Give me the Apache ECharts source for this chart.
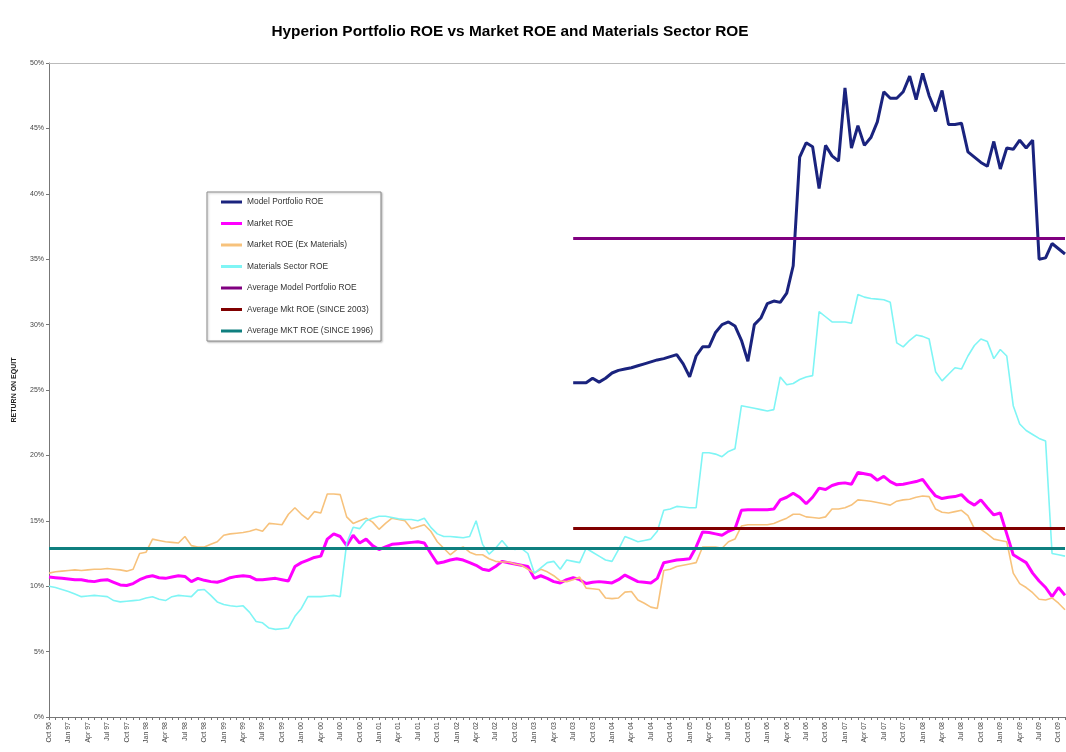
<!DOCTYPE html>
<html>
<head>
<meta charset="utf-8">
<script src="https://cdn.jsdelivr.net/npm/echarts@6/dist/echarts.min.js"></script>
<style>
  html, body { margin: 0; padding: 0; background: #fff; }
  #chart { width: 1066px; height: 752px; }
</style>
</head>
<body>
<div id="chart"></div>
<script>
// monthly categories, Oct 96 .. Nov 09
var months = [
  'Oct 96','Nov 96','Dec 96',
  'Jan 97','Feb 97','Mar 97','Apr 97','May 97','Jun 97','Jul 97','Aug 97','Sep 97','Oct 97','Nov 97','Dec 97',
  'Jan 98','Feb 98','Mar 98','Apr 98','May 98','Jun 98','Jul 98','Aug 98','Sep 98','Oct 98','Nov 98','Dec 98',
  'Jan 99','Feb 99','Mar 99','Apr 99','May 99','Jun 99','Jul 99','Aug 99','Sep 99','Oct 99','Nov 99','Dec 99',
  'Jan 00','Feb 00','Mar 00','Apr 00','May 00','Jun 00','Jul 00','Aug 00','Sep 00','Oct 00','Nov 00','Dec 00',
  'Jan 01','Feb 01','Mar 01','Apr 01','May 01','Jun 01','Jul 01','Aug 01','Sep 01','Oct 01','Nov 01','Dec 01',
  'Jan 02','Feb 02','Mar 02','Apr 02','May 02','Jun 02','Jul 02','Aug 02','Sep 02','Oct 02','Nov 02','Dec 02',
  'Jan 03','Feb 03','Mar 03','Apr 03','May 03','Jun 03','Jul 03','Aug 03','Sep 03','Oct 03','Nov 03','Dec 03',
  'Jan 04','Feb 04','Mar 04','Apr 04','May 04','Jun 04','Jul 04','Aug 04','Sep 04','Oct 04','Nov 04','Dec 04',
  'Jan 05','Feb 05','Mar 05','Apr 05','May 05','Jun 05','Jul 05','Aug 05','Sep 05','Oct 05','Nov 05','Dec 05',
  'Jan 06','Feb 06','Mar 06','Apr 06','May 06','Jun 06','Jul 06','Aug 06','Sep 06','Oct 06','Nov 06','Dec 06',
  'Jan 07','Feb 07','Mar 07','Apr 07','May 07','Jun 07','Jul 07','Aug 07','Sep 07','Oct 07','Nov 07','Dec 07',
  'Jan 08','Feb 08','Mar 08','Apr 08','May 08','Jun 08','Jul 08','Aug 08','Sep 08','Oct 08','Nov 08','Dec 08',
  'Jan 09','Feb 09','Mar 09','Apr 09','May 09','Jun 09','Jul 09','Aug 09','Sep 09','Oct 09','Nov 09'
];

// Model portfolio only starts Jul 03
var modelStart = 'Jul 03';
var modelRoe = [
  25.55,25.55,25.55,25.9,25.6,25.9,26.3,26.5,26.6,26.7,26.85,27.0,
  27.15,27.3,27.4,27.55,27.7,27.0,26.0,27.6,28.3,28.3,29.4,30.0,
  30.2,29.9,28.8,27.2,30.0,30.5,31.6,31.8,31.7,32.4,34.5,42.8,
  43.9,43.6,40.4,43.7,42.9,42.5,48.1,43.5,45.2,43.7,44.3,45.5,
  47.8,47.3,47.3,47.8,49.0,47.2,49.2,47.5,46.3,47.9,45.3,45.3,
  45.4,43.2,42.8,42.4,42.1,44.0,41.9,43.5,43.4,44.1,43.5,44.1,
  35.0,35.1,36.2,35.8,35.4
];

var marketRoe = [
  10.7,10.65,10.6,10.55,10.5,10.5,10.4,10.35,10.45,10.5,10.3,10.1,
  10.05,10.2,10.5,10.7,10.8,10.65,10.6,10.7,10.8,10.75,10.35,10.6,
  10.45,10.35,10.3,10.45,10.65,10.75,10.8,10.75,10.5,10.5,10.55,10.6,
  10.5,10.4,11.5,11.8,12.0,12.2,12.3,13.6,14.0,13.8,13.1,13.9,
  13.3,13.6,13.1,12.8,13.0,13.2,13.25,13.3,13.35,13.4,13.3,12.5,
  11.75,11.85,12.0,12.1,12.0,11.8,11.6,11.3,11.2,11.5,11.9,11.8,
  11.7,11.6,11.5,10.6,10.8,10.6,10.35,10.25,10.5,10.65,10.5,10.2,
  10.3,10.35,10.3,10.25,10.5,10.85,10.6,10.35,10.3,10.25,10.6,11.8,
  11.9,12.0,12.05,12.1,13.0,14.15,14.1,14.0,13.9,14.2,14.4,15.8,
  15.85,15.85,15.85,15.85,15.9,16.6,16.8,17.1,16.8,16.3,16.8,17.5,
  17.4,17.7,17.85,17.9,17.8,18.7,18.6,18.5,18.1,18.4,18.0,17.75,
  17.8,17.9,18.0,18.17,17.5,16.9,16.7,16.8,16.85,17.0,16.5,16.2,
  16.6,16.0,15.45,15.6,14.0,12.4,12.1,11.8,11.0,10.4,9.9,9.2,
  9.9,9.3
];

var marketExMaterials = [
  11.0,11.1,11.15,11.2,11.25,11.2,11.25,11.3,11.3,11.35,11.3,11.25,
  11.15,11.3,12.5,12.6,13.6,13.5,13.4,13.35,13.3,13.8,13.1,13.0,
  13.0,13.2,13.4,13.9,14.0,14.05,14.1,14.2,14.35,14.2,14.8,14.75,
  14.7,15.5,16.0,15.5,15.1,15.7,15.6,17.05,17.05,17.0,15.3,14.8,
  15.0,15.2,14.9,14.35,14.8,15.2,15.1,15.0,14.4,14.55,14.7,14.2,
  13.4,12.9,12.4,12.8,13.0,12.6,12.4,12.4,12.1,11.9,11.85,11.85,
  11.7,11.6,11.3,11.0,11.3,11.1,10.8,10.4,10.35,10.5,10.7,9.85,
  9.8,9.75,9.1,9.05,9.1,9.55,9.6,8.95,8.7,8.4,8.3,11.2,
  11.3,11.5,11.6,11.7,11.8,13.0,13.0,13.0,12.9,13.4,13.6,14.6,
  14.7,14.7,14.7,14.7,14.8,15.0,15.2,15.5,15.5,15.3,15.25,15.2,
  15.3,15.9,15.9,16.0,16.2,16.6,16.55,16.5,16.4,16.3,16.2,16.5,
  16.6,16.65,16.8,16.9,16.85,15.9,15.65,15.6,15.7,15.8,15.4,14.4,
  14.35,14.0,13.6,13.5,13.4,11.0,10.2,9.9,9.5,9.0,8.95,9.1,
  8.7,8.2
];

var materialsRoe = [
  10.0,9.9,9.75,9.6,9.4,9.2,9.25,9.3,9.25,9.2,8.9,8.8,
  8.85,8.9,8.95,9.1,9.2,9.0,8.9,9.2,9.3,9.25,9.2,9.7,
  9.75,9.3,8.8,8.6,8.5,8.45,8.5,8.0,7.3,7.2,6.8,6.7,
  6.75,6.8,7.7,8.3,9.2,9.2,9.2,9.25,9.3,9.2,13.3,14.5,
  14.4,15.0,15.2,15.35,15.35,15.25,15.15,15.1,15.1,15.0,15.2,14.5,
  14.0,13.8,13.8,13.75,13.7,13.8,15.0,13.2,12.45,12.9,13.5,12.9,
  12.8,12.9,12.5,11.0,11.4,11.8,11.9,11.3,12.0,11.9,11.8,12.9,
  12.6,12.3,12.0,11.9,12.8,13.8,13.6,13.4,13.5,13.6,14.2,15.8,
  15.9,16.1,16.05,16.0,16.0,20.2,20.2,20.1,19.9,20.3,20.5,23.8,
  23.7,23.6,23.5,23.4,23.5,26.0,25.4,25.5,25.8,26.0,26.1,31.0,
  30.6,30.2,30.2,30.2,30.1,32.3,32.1,32.0,31.95,31.9,31.7,28.6,
  28.3,28.8,29.2,29.1,28.9,26.4,25.7,26.2,26.7,26.6,27.6,28.4,
  28.9,28.7,27.4,28.1,27.6,23.8,22.4,21.9,21.6,21.3,21.1,12.5,
  12.4,12.3
];

// averages (horizontal reference lines)
var avgModelRoe = 36.6;
var avgMkt2003 = 14.45;
var avgMkt1996 = 12.9;
var avg2003Start = 'Jul 03';

var yTicks = [0, 5, 10, 15, 20, 25, 30, 35, 40, 45, 50];

var font = "'Liberation Sans', Arial, sans-serif";
var lastMonth = months[months.length - 1];
var modelOffset = months.indexOf(modelStart);

function avgLine(name, color, value, from) {
  return {
    name: name,
    type: 'line',
    data: [],
    itemStyle: { color: color },
    lineStyle: { color: color, width: 3 },
    markLine: {
      silent: true,
      symbol: 'none',
      label: { show: false },
      lineStyle: { color: color, width: 3, type: 'solid' },
      data: [[{ coord: [from, value] }, { coord: [lastMonth, value] }]]
    }
  };
}

var chart = echarts.init(document.getElementById('chart'));
chart.setOption({
  animation: false,
  backgroundColor: '#fff',
  title: {
    text: 'Hyperion Portfolio ROE vs Market ROE and Materials Sector ROE',
    left: 505,
    top: 19,
    textAlign: 'center',
    textStyle: { fontFamily: font, fontSize: 15.4, fontWeight: 'bold', color: '#000' }
  },
  legend: {
    orient: 'vertical',
    left: 207,
    top: 192,
    icon: 'rect',
    itemWidth: 21,
    itemHeight: 3,
    itemGap: 13.5,
    padding: [6, 8, 6, 14],
    backgroundColor: '#fff',
    borderColor: '#8c8c8c',
    borderWidth: 1,
    shadowColor: 'rgba(0,0,0,0.25)',
    shadowOffsetX: 1,
    shadowOffsetY: 1,
    shadowBlur: 2,
    textStyle: { fontFamily: font, fontSize: 8.4, color: '#333' },
    data: ['Model Portfolio ROE', 'Market ROE', 'Market ROE (Ex Materials)', 'Materials Sector ROE',
           'Average Model Portfolio ROE', 'Average Mkt ROE (SINCE 2003)', 'Average MKT ROE (SINCE 1996)']
  },
  grid: { left: 49, right: 1, top: 63, bottom: 35, containLabel: false },
  xAxis: [{
    type: 'category',
    data: months,
    boundaryGap: false,
    axisLine: { lineStyle: { color: '#777', width: 1 } },
    axisTick: { show: true, interval: 0, length: 3, lineStyle: { color: '#777' } },
    axisLabel: { interval: 2, rotate: 90, fontSize: 7, color: '#444', fontFamily: font, margin: 5 },
    splitLine: { show: false }
  }, {
    type: 'category',
    data: months,
    position: 'top',
    boundaryGap: false,
    axisLine: { lineStyle: { color: '#bbb', width: 1 } },
    axisTick: { show: false },
    axisLabel: { show: false }
  }],
  yAxis: {
    type: 'value',
    min: yTicks[0],
    max: yTicks[yTicks.length - 1],
    interval: 5,
    name: 'RETURN ON EQUIT',
    nameLocation: 'middle',
    nameGap: 31,
    nameRotate: 90,
    nameTextStyle: { fontFamily: font, fontSize: 7, fontWeight: 'bold', color: '#222' },
    axisLine: { show: true, lineStyle: { color: '#777', width: 1 } },
    axisTick: { show: true, length: 3, lineStyle: { color: '#777' } },
    axisLabel: { formatter: '{value}%', fontSize: 7, color: '#444', fontFamily: font, margin: 5 },
    splitLine: { show: false }
  },
  series: [
    {
      name: 'Model Portfolio ROE',
      type: 'line',
      showSymbol: false,
      data: modelRoe.map(function (v, k) { return [months[modelOffset + k], v]; }),
      itemStyle: { color: '#1a237e' },
      lineStyle: { color: '#1a237e', width: 3 }
    },
    {
      name: 'Market ROE',
      type: 'line',
      showSymbol: false,
      data: marketRoe,
      itemStyle: { color: '#ff00ff' },
      lineStyle: { color: '#ff00ff', width: 3 }
    },
    {
      name: 'Market ROE (Ex Materials)',
      type: 'line',
      showSymbol: false,
      data: marketExMaterials,
      itemStyle: { color: '#f7c27c' },
      lineStyle: { color: '#f7c27c', width: 1.6 }
    },
    {
      name: 'Materials Sector ROE',
      type: 'line',
      showSymbol: false,
      data: materialsRoe,
      itemStyle: { color: '#7ff5f5' },
      lineStyle: { color: '#7ff5f5', width: 1.6 }
    },
    avgLine('Average Model Portfolio ROE', '#800080', avgModelRoe, modelStart),
    avgLine('Average Mkt ROE (SINCE 2003)', '#800000', avgMkt2003, avg2003Start),
    avgLine('Average MKT ROE (SINCE 1996)', '#0f7f7f', avgMkt1996, months[0])
  ]
});
</script>
</body>
</html>
